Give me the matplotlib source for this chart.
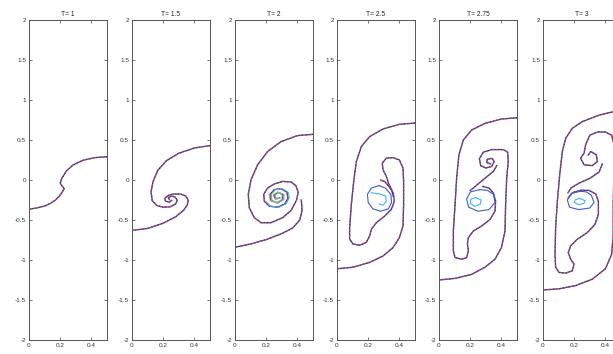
import matplotlib
matplotlib.use("Agg")
import matplotlib.pyplot as plt

# interface curves (x in [0, 0.5], y in [-2, 2])
titles = ["T= 1", "T= 1.5", "T= 2", "T= 2.5", "T= 2.75", "T= 3"]

# T = 1
t1_x = [0, 0.05, 0.1, 0.14, 0.17, 0.195, 0.21, 0.226, 0.21, 0.2, 0.209, 0.241, 0.284, 0.348, 0.423, 0.5]
t1_y = [-0.365, -0.35, -0.325, -0.29, -0.25, -0.2, -0.16, -0.108, -0.07, -0.04, 0.016, 0.116, 0.19, 0.248, 0.28, 0.29]

# T = 1.5
t15_bot_x = [0, 0.1, 0.2, 0.28, 0.33, 0.355, 0.36, 0.345, 0.31, 0.265, 0.23, 0.21, 0.215, 0.24, 0.255]
t15_bot_y = [-0.63, -0.605, -0.54, -0.46, -0.38, -0.31, -0.25, -0.2, -0.175, -0.175, -0.195, -0.23, -0.265, -0.275, -0.255]
t15_top_x = [0.5, 0.4, 0.3, 0.22, 0.165, 0.135, 0.122, 0.13, 0.16, 0.2, 0.245, 0.28, 0.29, 0.275, 0.25, 0.232, 0.24]
t15_top_y = [0.43, 0.40, 0.335, 0.24, 0.12, -0.02, -0.15, -0.26, -0.32, -0.34, -0.335, -0.3, -0.25, -0.21, -0.2, -0.22, -0.245]

# T = 2
t2_top_x = [0.5, 0.4, 0.295, 0.209, 0.145, 0.103, 0.085, 0.092, 0.124, 0.167, 0.23, 0.306, 0.36, 0.395,
            0.405, 0.39, 0.359, 0.306, 0.252, 0.209, 0.184, 0.188, 0.22, 0.273, 0.32, 0.34, 0.333, 0.295,
            0.252, 0.224, 0.23, 0.269, 0.306, 0.306, 0.273, 0.248, 0.26, 0.284]
t2_top_y = [0.571, 0.555, 0.48, 0.356, 0.19, 0.004, -0.18, -0.35, -0.47, -0.534, -0.534, -0.47, -0.38, -0.25,
            -0.15, -0.07, -0.025, -0.017, -0.05, -0.1, -0.18, -0.265, -0.327, -0.34, -0.298, -0.224, -0.153, -0.108,
            -0.12, -0.182, -0.257, -0.286, -0.244, -0.182, -0.153, -0.19, -0.236, -0.224]
t2_bot_x = [0, 0.1, 0.2, 0.3, 0.37, 0.415, 0.43, 0.425]
t2_bot_y = [-0.84, -0.80, -0.745, -0.67, -0.6, -0.5, -0.38, -0.25]

# T = 2.5
t25_top_x = [0.5, 0.4, 0.295, 0.209, 0.156, 0.124, 0.107, 0.092, 0.081, 0.081, 0.103, 0.145, 0.188, 0.209,
             0.22, 0.252, 0.306, 0.348, 0.368, 0.36, 0.333, 0.306, 0.28]
t25_top_y = [0.712, 0.696, 0.638, 0.542, 0.418, 0.232, -0.017, -0.306, -0.596, -0.74, -0.80, -0.816, -0.78, -0.70,
             -0.617, -0.534, -0.45, -0.368, -0.265, -0.16, -0.08, -0.02, 0.0]
t25_bot_x = [0, 0.103, 0.209, 0.295, 0.359, 0.40, 0.423, 0.427, 0.427, 0.423, 0.40, 0.359, 0.316, 0.29,
             0.295, 0.316, 0.33, 0.35, 0.36]
t25_bot_y = [-1.11, -1.09, -1.03, -0.95, -0.845, -0.72, -0.575, -0.306, -0.017, 0.15, 0.25, 0.28, 0.273, 0.21,
             0.128, 0.046, -0.04, -0.12, -0.2]
t25_core_x = [0.27, 0.22, 0.195, 0.2, 0.23, 0.28, 0.33, 0.35, 0.345, 0.31, 0.27]
t25_core_y = [-0.07, -0.1, -0.18, -0.28, -0.36, -0.39, -0.36, -0.28, -0.18, -0.1, -0.07]
t25_hook_x = [0.22, 0.273, 0.312, 0.316, 0.295, 0.27]
t25_hook_y = [-0.16, -0.174, -0.2, -0.265, -0.315, -0.3]

# T = 2.75
t275_top_x = [0.5, 0.4, 0.295, 0.209, 0.156, 0.128, 0.113, 0.103, 0.092, 0.092, 0.103, 0.145, 0.177, 0.188,
              0.182, 0.188, 0.22, 0.273, 0.327, 0.359, 0.363, 0.348, 0.32, 0.28]
t275_top_y = [0.778, 0.762, 0.708, 0.625, 0.50, 0.315, 0.025, -0.306, -0.638, -0.886, -0.97, -0.99, -0.97, -0.886,
              -0.80, -0.72, -0.638, -0.576, -0.493, -0.39, -0.265, -0.16, -0.1, -0.08]
t275_bot_x = [0, 0.103, 0.209, 0.295, 0.359, 0.40, 0.423, 0.427, 0.434, 0.444, 0.44, 0.412, 0.338, 0.284,
              0.259, 0.267, 0.30, 0.338, 0.354, 0.34, 0.31, 0.305, 0.33]
t275_bot_y = [-1.25, -1.23, -1.18, -1.09, -0.99, -0.845, -0.638, -0.306, 0.025, 0.232, 0.348, 0.38, 0.38, 0.348,
              0.265, 0.18, 0.15, 0.17, 0.232, 0.27, 0.26, 0.22, 0.2]
t275_stalk_x = [0.37, 0.35, 0.3, 0.25, 0.22, 0.2]
t275_stalk_y = [0.18, 0.11, 0.03, -0.05, -0.1, -0.13]
t275_core_x = [0.26, 0.2, 0.177, 0.19, 0.25, 0.32, 0.359, 0.35, 0.31, 0.26]
t275_core_y = [-0.12, -0.15, -0.24, -0.34, -0.39, -0.37, -0.28, -0.18, -0.13, -0.12]
t275_in_x = [0.235, 0.205, 0.2, 0.23, 0.265, 0.27, 0.235]
t275_in_y = [-0.22, -0.24, -0.29, -0.33, -0.3, -0.25, -0.22]

# T = 3
t3_top_x = [0.5, 0.449, 0.359, 0.252, 0.188, 0.145, 0.124, 0.107, 0.092, 0.081, 0.077, 0.081, 0.103, 0.145,
            0.188, 0.199, 0.177, 0.162, 0.177, 0.22, 0.284, 0.333, 0.355, 0.355, 0.338, 0.295, 0.241, 0.188, 0.162]
t3_top_y = [0.86, 0.853, 0.81, 0.73, 0.646, 0.52, 0.356, 0.066, -0.265, -0.596, -0.928, -1.09, -1.155, -1.164,
            -1.135, -1.05, -0.99, -0.907, -0.824, -0.74, -0.658, -0.555, -0.43, -0.265, -0.174, -0.13, -0.128, -0.16, -0.224]
t3_bot_x = [0, 0.103, 0.209, 0.316, 0.40, 0.44, 0.45, 0.45, 0.455, 0.455, 0.44, 0.4, 0.35, 0.3, 0.273,
            0.263, 0.241, 0.263, 0.316, 0.348, 0.342, 0.306, 0.29]
t3_bot_y = [-1.375, -1.36, -1.32, -1.24, -1.11, -0.93, -0.7, -0.3, 0.1, 0.45, 0.56, 0.6, 0.6, 0.56, 0.44,
            0.335, 0.273, 0.19, 0.18, 0.23, 0.315, 0.356, 0.31]
t3_stalk_x = [0.38, 0.36, 0.3, 0.23, 0.18, 0.16]
t3_stalk_y = [0.2, 0.1, 0.02, -0.04, -0.1, -0.16]
t3_core_x = [0.24, 0.18, 0.156, 0.17, 0.23, 0.3, 0.327, 0.31, 0.28, 0.24]
t3_core_y = [-0.14, -0.17, -0.25, -0.34, -0.37, -0.35, -0.28, -0.19, -0.15, -0.14]
t3_in_x = [0.235, 0.205, 0.2, 0.23, 0.265, 0.27, 0.235]
t3_in_y = [-0.23, -0.25, -0.28, -0.31, -0.29, -0.26, -0.23]

main_curves = [
    [(t1_x, t1_y)],
    [(t15_bot_x, t15_bot_y), (t15_top_x, t15_top_y)],
    [(t2_top_x, t2_top_y), (t2_bot_x, t2_bot_y)],
    [(t25_top_x, t25_top_y), (t25_bot_x, t25_bot_y)],
    [(t275_top_x, t275_top_y), (t275_bot_x, t275_bot_y), (t275_stalk_x, t275_stalk_y)],
    [(t3_top_x, t3_top_y), (t3_bot_x, t3_bot_y), (t3_stalk_x, t3_stalk_y)],
]
core_curves = [
    [], [], [],
    [(t25_core_x, t25_core_y, "#3b5bd6"), (t25_hook_x, t25_hook_y, "#3fb4e8")],
    [(t275_core_x, t275_core_y, "#3b5bd6"), (t275_in_x, t275_in_y, "#3fb4e8")],
    [(t3_core_x, t3_core_y, "#3b5bd6"), (t3_in_x, t3_in_y, "#3fb4e8")],
]

plt.rcParams['font.family'] = ['Liberation Sans', 'DejaVu Sans']
fig = plt.figure(figsize=(6.13, 3.54), dpi=100)

lefts = [29, 132, 235, 337, 439, 543]
for i, left in enumerate(lefts):
    ax = fig.add_axes([left / 613, 14 / 354, 78 / 613, 320 / 354])
    for cx, cy in main_curves[i]:
        ax.plot(cx, cy, color="#3b4fc4", lw=1.0, solid_joinstyle="round")
        ax.plot(cx, cy, color="#d9423a", lw=0.9, dashes=(2, 2))
        ax.plot(cx, cy, color="#2a2a2a", lw=0.6, dashes=(1, 3))
    if i == 2:
        # coloured inner turns of the spiral
        ax.plot([v + 0.008 for v in t2_top_x[-17:]], t2_top_y[-17:], color="#3fb4e8", lw=0.7)
        ax.plot([v - 0.006 for v in t2_top_x[-9:]], t2_top_y[-9:], color="#e8c040", lw=0.5)
    for cx, cy, c in core_curves[i]:
        ax.plot(cx, cy, color=c, lw=0.8)
    ax.set_xlim(0, 0.5)
    ax.set_ylim(-2, 2)
    ax.set_xticks([0, 0.2, 0.4])
    ax.set_xticklabels(["0", "0.2", "0.4"])
    ax.set_yticks([-2, -1.5, -1, -0.5, 0, 0.5, 1, 1.5, 2])
    ax.set_yticklabels(["-2", "-1.5", "-1", "-0.5", "0", "0.5", "1", "1.5", "2"])
    ax.tick_params(direction="in", length=2.5, width=0.5, top=True, right=True,
                   labelsize=4.6, labelcolor="#333333", color="#444444", pad=2)
    for s in ax.spines.values():
        s.set_linewidth(0.7)
        s.set_color("#555555")
    ax.set_title(titles[i], fontsize=4.8, color="#222222", pad=3)

fig.savefig("out.png", dpi=100)
